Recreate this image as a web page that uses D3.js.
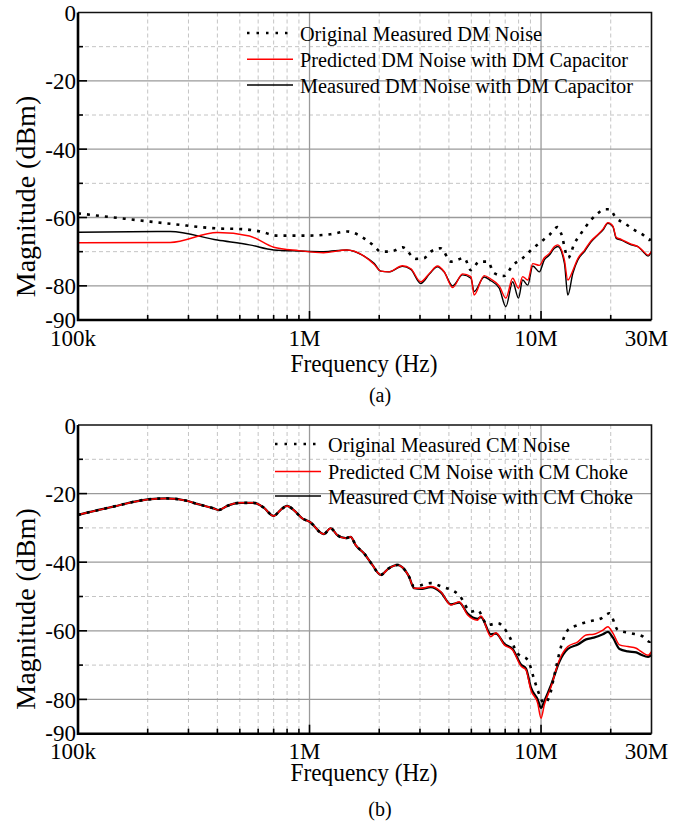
<!DOCTYPE html>
<html>
<head>
<meta charset="utf-8">
<script src="https://cdn.jsdelivr.net/npm/d3@7"></script>
<style>
body{margin:0;background:#fff;}
svg text{font-family:"Liberation Serif",Tinos,"Times New Roman","DejaVu Serif",serif;fill:#000;}
</style>
</head>
<body>
<div id="chart"></div>
<script>
var W=692, H=827;

//Tick values and labels
var xTickValues=[1e5,1e6,1e7,3e7];
var xTickLabels=["100k","1M","10M","30M"];
var yTickLabels=[0,-20,-40,-60,-80,-90];
var yMajor=[-80,-60,-40,-20];
var yMinor=[-70,-50,-30,-10];
var xMajor=[1e6,1e7];
var xMinor=[2e5,3e5,4e5,5e5,6e5,7e5,8e5,9e5,2e6,3e6,4e6,5e6,6e6,7e6,8e6,9e6,2e7];

//(a) DM noise, frequencies in MHz
var freqDM=[0.1,0.25,0.4,0.55,0.7,0.9,1.15,1.45,1.72,1.9,2.03,2.2,2.52,2.74,3.02,3.3,3.57,3.81,4.15,4.58,
  4.98,5.14,5.68,6.07,6.6,7.05,7.54,7.99,8.33,8.76,9.21,9.83,10.33,10.86,11.42,11.81,12.62,13.05,13.72,14.42,
  15.39,16.46,17.6,18.5,19.44,20.44,21.12,22.2,24.5,26.2,27.6,29.0,30];
var predDM=[-67.4,-67.3,-64.4,-65.4,-68.7,-69.7,-70.3,-69.5,-71.3,-73.7,-75.7,-75.9,-74.1,-75.0,-78.8,-76.3,-74.2,-75.8,-80.5,-76.5,
  -77.3,-82.7,-77.0,-78.0,-80.0,-83.6,-77.8,-80.7,-77.3,-78.3,-73.5,-74.0,-71.8,-70.5,-68.5,-68.0,-72.5,-78.3,-75.5,-72.0,
  -69.6,-66.8,-65.0,-63.4,-61.5,-62.5,-65.8,-66.4,-67.8,-68.5,-69.8,-71.0,-69.8];
var measDM=[-64.3,-64.1,-66.6,-68.0,-69.5,-69.8,-70.0,-69.5,-71.3,-73.4,-75.7,-75.9,-74.3,-75.2,-79.3,-76.5,-74.4,-75.9,-80.0,-76.8,
  -77.8,-81.7,-77.4,-78.5,-80.7,-86.1,-78.8,-83.6,-78.3,-79.8,-74.2,-75.9,-72.4,-71.0,-69.0,-68.5,-73.4,-82.7,-76.3,-72.4,
  -70.0,-67.1,-65.1,-63.7,-61.7,-62.7,-66.1,-66.6,-68.0,-68.5,-70.0,-71.3,-70.0];
var freqDMorig=[0.1,0.135,0.205,0.263,0.4,0.511,0.614,0.725,1.0,1.233,1.456,1.72,1.9,2.03,2.24,2.52,2.88,3.12,3.34,3.69,
  4.08,4.66,4.98,5.41,5.88,6.28,6.94,7.54,8.33,9.04,10.0,10.86,11.81,12.2,13.1,13.94,14.9,16.46,17.6,18.8,
  19.75,21.12,22.95,25.35,27.6,29.4,30];
var origDM=[-58.8,-59.8,-61.2,-62.0,-63.2,-63.4,-64.1,-65.3,-65.3,-64.9,-64.1,-66.1,-68.3,-70.0,-70.0,-68.7,-72.1,-71.9,-70.0,-69.0,
  -72.9,-71.9,-75.4,-72.9,-72.9,-76.3,-77.1,-74.0,-71.9,-69.6,-67.1,-65.1,-62.8,-64.6,-71.8,-67.6,-64.6,-60.7,-58.8,-57.6,
  -57.6,-60.2,-61.7,-63.7,-65.1,-66.6,-65.6];

//(b) CM noise, frequencies in MHz
var freqCM=[0.1,0.142,0.2,0.242,0.295,0.327,0.385,0.405,0.44,0.5,0.574,0.634,0.7,0.749,0.8,0.855,0.93,1.0,1.153,1.233,
  1.318,1.431,1.505,1.582,1.718,1.868,2.03,2.2,2.4,2.52,2.69,2.83,3.02,3.34,3.69,4.08,4.43,4.82,5.32,5.5,
  6.07,6.39,6.94,7.54,8.19,8.61,9.04,9.67,10.0,10.33,11.05,12.0,13.05,14.42,15.66,16.9,18.5,19.44,20.44,21.83,
  23.73,25.78,27.1,29.0,30];
var predCM=[-26.2,-23.8,-21.7,-21.4,-22.1,-23.0,-24.3,-24.8,-23.6,-22.7,-22.7,-24.1,-26.5,-24.8,-23.6,-24.8,-27.2,-28.2,-31.8,-30.1,
  -32.1,-33.0,-32.6,-35.0,-37.4,-40.8,-43.7,-41.8,-40.8,-41.5,-44.2,-47.6,-47.6,-47.1,-48.6,-52.5,-51.5,-55.4,-56.9,-55.7,
  -61.7,-60.6,-64.1,-65.6,-70.3,-71.4,-77.3,-81.1,-85.5,-81.6,-76.3,-68.5,-64.6,-63.2,-61.2,-61.0,-59.8,-58.8,-60.7,-64.1,
  -64.6,-65.1,-66.1,-67.1,-66.1];
var measCM=[-26.2,-23.8,-21.7,-21.4,-22.1,-23.0,-24.3,-24.8,-23.6,-22.7,-22.7,-24.1,-26.5,-24.8,-23.6,-24.8,-27.2,-28.2,-31.8,-30.1,
  -32.1,-33.0,-32.6,-35.0,-37.4,-40.8,-43.7,-41.8,-40.8,-41.5,-44.2,-47.6,-47.8,-47.3,-48.8,-52.3,-51.8,-55.0,-56.5,-56.0,
  -61.0,-60.8,-63.8,-65.3,-69.8,-71.0,-76.5,-80.0,-82.5,-80.5,-75.8,-69.0,-65.3,-64.0,-62.5,-62.0,-61.0,-60.3,-62.0,-65.3,
  -66.0,-66.3,-67.0,-67.6,-67.0];
var freqCMorig=[0.1,0.142,0.2,0.242,0.295,0.327,0.385,0.405,0.44,0.5,0.574,0.634,0.7,0.749,0.8,0.855,0.93,1.0,1.153,1.233,
  1.318,1.431,1.505,1.582,1.718,1.868,2.03,2.2,2.4,2.52,2.69,2.83,3.34,3.69,4.43,4.98,5.32,5.88,6.5,7.17,
  7.93,8.76,9.35,9.67,10.33,10.86,11.42,12.2,13.05,14.42,16.0,18.18,19.75,21.48,24.5,27.6,29.4,30];
var origCM=[-26.2,-23.8,-21.7,-21.4,-22.1,-23.0,-24.3,-24.8,-23.6,-22.7,-22.7,-24.1,-26.5,-24.8,-23.6,-24.8,-27.2,-28.2,-31.8,-30.1,
  -32.1,-33.0,-32.6,-35.0,-37.4,-40.8,-43.7,-41.8,-40.8,-41.5,-44.2,-47.1,-46.1,-47.0,-49.6,-54.4,-54.0,-58.3,-57.8,-60.7,
  -66.6,-68.5,-74.3,-77.3,-81.1,-79.2,-72.9,-64.6,-59.8,-58.3,-57.3,-56.4,-54.9,-59.8,-60.7,-61.7,-63.2,-62.2];

var legendDM=["Original Measured DM Noise","Predicted DM Noise with DM Capacitor","Measured DM Noise with DM Capacitor"];
var legendCM=["Original Measured CM Noise","Predicted CM Noise with CM Choke","Measured CM Noise with CM Choke"];

var svg=d3.select("#chart").append("svg")
          .attr("width",W)
          .attr("height",H)
          .attr("font-family","'Liberation Serif', Tinos, 'Times New Roman', 'DejaVu Serif', serif");

//Shared x-scale
var xScale=d3.scaleLog().domain([1e5,3e7]).range([78,651.5]);

var series=[
  {stroke:"#000",dash:null},
  {stroke:"#ff0000",dash:null},
  {stroke:"#000",dash:"3,6"}
];

function toPoints(freq,vals) {
    return freq.map(function(f,i) {return [f*1e6,vals[i]];});
}

var drawPanel=function(p) {
    var yScale=d3.scaleLinear().domain([-90,0]).range([p.bottom,p.top]);
    var g=svg.append("g");
    var x0=xScale.range()[0], x1=xScale.range()[1];

    //Minor grid (dashed)
    g.selectAll(".hminor").data(yMinor).enter().append("line")
     .attr("x1",x0).attr("x2",x1)
     .attr("y1",function(d) {return yScale(d);}).attr("y2",function(d) {return yScale(d);})
     .style("stroke","#c4c4c4").style("stroke-dasharray","4,3");
    g.selectAll(".vminor").data(xMinor).enter().append("line")
     .attr("y1",p.top).attr("y2",p.bottom)
     .attr("x1",function(d) {return xScale(d);}).attr("x2",function(d) {return xScale(d);})
     .style("stroke","#c4c4c4").style("stroke-dasharray","4,3");
    //Major grid (solid)
    g.selectAll(".hmajor").data(yMajor).enter().append("line")
     .attr("x1",x0).attr("x2",x1)
     .attr("y1",function(d) {return yScale(d);}).attr("y2",function(d) {return yScale(d);})
     .style("stroke","#9a9a9a").style("stroke-width",1.3);
    g.selectAll(".vmajor").data(xMajor).enter().append("line")
     .attr("y1",p.top).attr("y2",p.bottom)
     .attr("x1",function(d) {return xScale(d);}).attr("x2",function(d) {return xScale(d);})
     .style("stroke","#9a9a9a").style("stroke-width",1.3);

    //Inward tick marks
    g.selectAll(".ytick").data(yMajor.concat(yMinor)).enter().append("line")
     .attr("x1",x0).attr("x2",function(d) {return x0+(d%20==0?9:5);})
     .attr("y1",function(d) {return yScale(d);}).attr("y2",function(d) {return yScale(d);})
     .style("stroke","#000").style("stroke-width",1.6);
    g.selectAll(".xtick").data(xMajor.concat(xMinor)).enter().append("line")
     .attr("y1",p.bottom).attr("y2",function(d) {return p.bottom-(xMajor.indexOf(d)>=0?9:5);})
     .attr("x1",function(d) {return xScale(d);}).attr("x2",function(d) {return xScale(d);})
     .style("stroke","#000").style("stroke-width",1.6);

    //Curves
    var line=d3.line()
               .curve(d3.curveMonotoneX)
               .x(function(d) {return xScale(d[0]);})
               .y(function(d) {return yScale(d[1]);});
    p.data.forEach(function(pts,i) {
        g.append("path")
         .attr("d",line(pts))
         .style("fill","none")
         .style("stroke",series[i].stroke)
         .style("stroke-width",p.widths[i])
         .style("stroke-dasharray",series[i].dash)
         .style("stroke-linejoin","round");
    });

    //Frame
    g.append("path")
     .attr("d","M"+x0+","+p.top+"H"+x1+"V"+p.bottom)
     .style("fill","none").style("stroke","#111").style("stroke-width",1.6);
    g.append("path")
     .attr("d","M"+x0+","+p.top+"V"+p.bottom+"H"+x1)
     .style("fill","none").style("stroke","#000").style("stroke-width",2.6);

    //Tick labels
    g.selectAll(".ylab").data(yTickLabels).enter().append("text")
     .attr("x",x0-2)
     .attr("y",function(d) {return yScale(d)+(d==-90?0:1);})
     .attr("text-anchor","end")
     .attr("dominant-baseline","central")
     .style("font-size","23px")
     .text(function(d) {return d;});
    g.selectAll(".xlab").data(xTickValues).enter().append("text")
     .attr("x",function(d) {return xScale(d)-5;})
     .attr("y",p.bottom+25.5)
     .attr("text-anchor","middle")
     .style("font-size","23px")
     .text(function(d,i) {return xTickLabels[i];});

    //Axis titles
    g.append("text")
     .attr("transform","translate(35,"+p.yTitle+") rotate(-90)")
     .attr("text-anchor","middle")
     .style("font-size","28px")
     .text("Magnitude (dBm)");
    g.append("text")
     .attr("x",364)
     .attr("y",p.xTitle)
     .attr("text-anchor","middle")
     .attr("textLength",147)
     .attr("lengthAdjust","spacingAndGlyphs")
     .style("font-size","25px")
     .text("Frequency (Hz)");
    g.append("text")
     .attr("x",380)
     .attr("y",p.caption)
     .attr("text-anchor","middle")
     .style("font-size","20px")
     .text(p.label);

    //Legend: dotted, red, black
    var order=[2,1,0];
    p.legend.forEach(function(name,i) {
        var s=series[order[i]];
        var ly=p.legendY[i];
        g.append("line")
         .attr("x1",p.legendX-53).attr("x2",p.legendX-7)
         .attr("y1",ly).attr("y2",ly)
         .style("stroke",s.stroke)
         .style("stroke-width",order[i]==2?2.4:1.4)
         .style("stroke-dasharray",order[i]==2?"2.5,7":null);
        g.append("text")
         .attr("x",p.legendX)
         .attr("y",ly+7.5)
         .attr("textLength",p.legendW[i])
         .attr("lengthAdjust","spacingAndGlyphs")
         .style("font-size","20px")
         .text(name);
    });
};

drawPanel({
    top:12.5, bottom:320, yTitle:196.5, xTitle:371.7, caption:402, label:"(a)",
    legend:legendDM, legendX:300, legendY:[33,59.3,85], legendW:[242,328,333],
    widths:[1.4,1.4,2.6],
    data:[toPoints(freqDM,measDM),toPoints(freqDM,predDM),toPoints(freqDMorig,origDM)]
});
drawPanel({
    top:425, bottom:733.7, yTitle:609, xTitle:780.5, caption:816, label:"(b)",
    legend:legendCM, legendX:328, legendY:[444,471.5,496], legendW:[242,300,305],
    widths:[2.2,1.5,2.6],
    data:[toPoints(freqCM,measCM),toPoints(freqCM,predCM),toPoints(freqCMorig,origCM)]
});
</script>
</body>
</html>
